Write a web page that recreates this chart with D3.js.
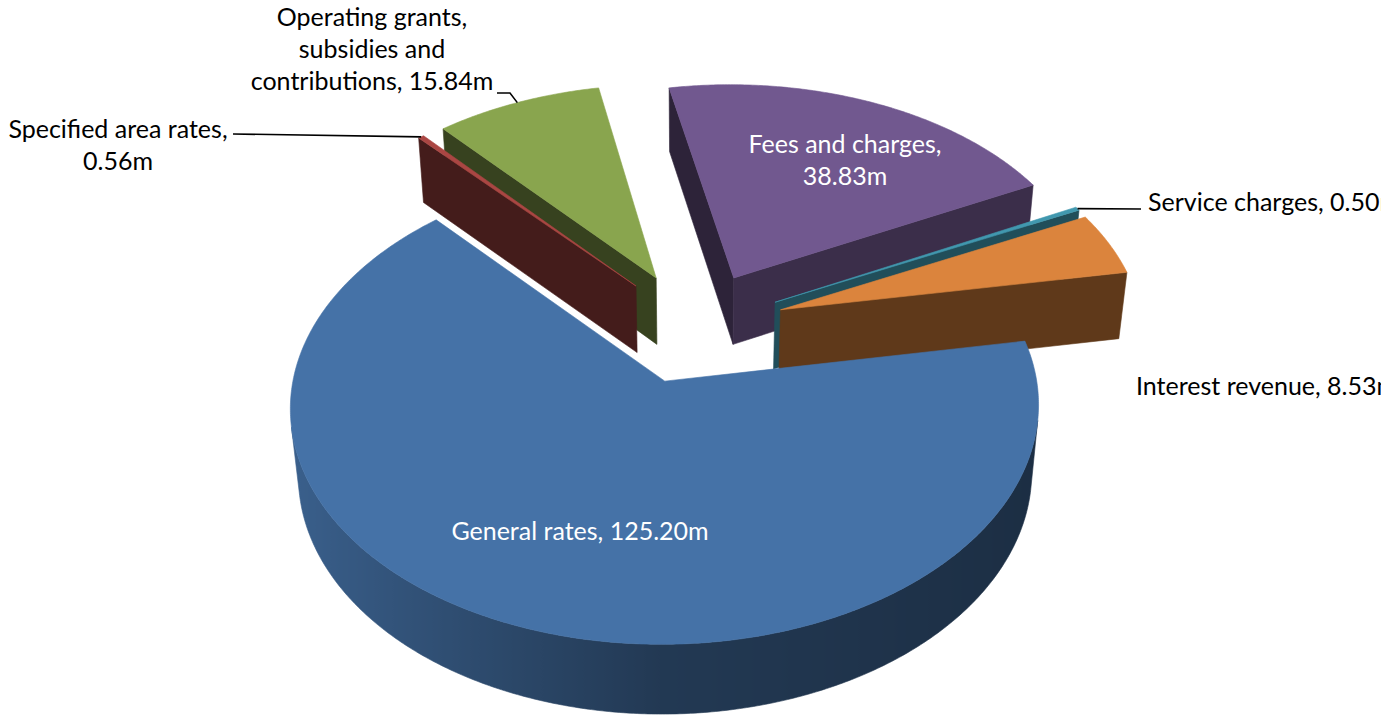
<!DOCTYPE html>
<html>
<head>
<meta charset="utf-8">
<script src="https://cdn.jsdelivr.net/npm/d3@7"></script>
<style>
  html, body { margin: 0; padding: 0; background: #ffffff; }
  svg { display: block; }
  text { font-family: Lato, "Open Sans", sans-serif; font-size: 25px; }
</style>
</head>
<body>
<svg id="chart" width="1400" height="717"></svg>
<script>
// Revenue by source (millions), in the order the slices run clockwise
const categories = [
  "General rates",
  "Specified area rates",
  "Operating grants, subsidies and contributions",
  "Fees and charges",
  "Service charges",
  "Interest revenue"
];
const values = [125.20, 0.56, 15.84, 38.83, 0.50, 8.53];
const palette = ["#4572a7", "#aa4643", "#89a54e", "#71588f", "#4198af", "#db843d"];

// Words per line for each data label
const labelWrap = [[3], [3, 1], [2, 2, 2], [3, 1], [3], [3]];
// Label placement: anchor point of the first baseline, alignment, colour
const labelPlace = [
  { x: 580,  y: 540, anchor: "middle", color: "#ffffff" },
  { x: 118,  y: 138, anchor: "middle", color: "#000000" },
  { x: 372,  y: 26,  anchor: "middle", color: "#000000" },
  { x: 845,  y: 153, anchor: "middle", color: "#ffffff" },
  { x: 1148, y: 211, anchor: "start",  color: "#000000" },
  { x: 1136, y: 395, anchor: "start",  color: "#000000" }
];
// Leader lines: fixed points near the label, ending on the slice rim
const leaderFrom = [null, [[233, 134]], [[497, 93], [510, 93]], null, [[1141, 209]], null];

const deg = Math.PI / 180;
const view = {
  cx: 695, cy: 327,      // screen position of the pie centre
  focal: 2720,           // perspective focal length (px per unit at distance 1)
  dist: 7.5,             // camera distance in pie radii
  tilt: 38 * deg,        // elevation of the camera above the pie plane
  explode: 0.25,         // slice offset from centre, in radii
  depth: 0.239,          // thickness of the pie, in radii
  start: 80 * deg        // angle where the first slice begins
};

const svg = d3.select("#chart");
const defs = svg.append("defs");
defs.append("clipPath").attr("id", "plotClip")
  .append("rect").attr("x", 0).attr("y", 0).attr("width", 1381).attr("height", 717);
const root = svg.append("g").attr("clip-path", "url(#plotClip)");

const data = categories.map((c, i) => ({ name: c, value: values[i], color: palette[i], i }));
const pie = d3.pie().sort(null).value(d => d.value)
  .startAngle(view.start).endAngle(view.start + 2 * Math.PI);
const arcs = pie(data);

const st = Math.sin(view.tilt), ct = Math.cos(view.tilt);
const cam = [0, view.dist * st, view.dist * ct];

// World: X right, Y up, Z toward the viewer. Angle 0 points away, clockwise seen from above.
function depthOf([X, Y, Z]) { return view.dist - (Y * st + Z * ct); }
function project(p) {
  const [X, Y, Z] = p;
  const yc = Y * ct - Z * st;
  const zc = depthOf(p);
  return [view.cx + view.focal * X / zc, view.cy - view.focal * yc / zc];
}
function facing(p, n) {
  return n[0] * (cam[0] - p[0]) + n[1] * (cam[1] - p[1]) + n[2] * (cam[2] - p[2]) > 0;
}
function shade(color, k) {
  const c = d3.rgb(color);
  return d3.rgb(c.r * k, c.g * k, c.b * k).formatHex();
}
const outerShade = nx => nx < 0 ? 0.5 + 0.35 * (-nx) : 0.5 - 0.1 * nx;
const radialShade = nx => 0.40 + 0.33 * Math.pow(Math.max(0, nx), 1.3);

const line = d3.line();
const poly = pts => line(pts.map(project)) + "Z";

const slices = arcs.map(a => {
  const a0 = a.startAngle, a1 = a.endAngle, mid = (a0 + a1) / 2;
  const ex = view.explode * Math.sin(mid), ez = -view.explode * Math.cos(mid);
  const h = view.depth;
  const rim = (ang, Y) => [ex + Math.sin(ang), Y, ez - Math.cos(ang)];
  const vtx = Y => [ex, Y, ez];
  const n = Math.max(2, Math.ceil((a1 - a0) / (0.5 * deg)));
  const angs = d3.range(n + 1).map(k => a0 + (a1 - a0) * k / n);
  return { a, a0, a1, mid, ex, ez, h, rim, vtx, angs, order: depthOf(vtx(0)) };
});

// Far slices first
slices.sort((p, q) => q.order - p.order);

slices.forEach(s => {
  const g = root.append("g").attr("class", "slice");
  const col = s.a.data.color;
  const h = s.h;

  // Radial walls at the start and end angles
  [[s.a0, s.a0 - Math.PI / 2], [s.a1, s.a1 + Math.PI / 2]].forEach(([ang, na]) => {
    const nrm = [Math.sin(na), 0, -Math.cos(na)];
    const pts = [s.vtx(0), s.rim(ang, 0), s.rim(ang, -h), s.vtx(-h)];
    const c = [(s.ex + s.rim(ang, 0)[0]) / 2, -h / 2, (s.ez + s.rim(ang, 0)[2]) / 2];
    if (!facing(c, nrm)) return;
    const fill = shade(col, radialShade(nrm[0]));
    g.append("path").attr("d", poly(pts)).attr("fill", fill)
      .attr("stroke", fill).attr("stroke-width", 0.6).attr("stroke-linejoin", "round");
  });

  // Curved outer wall, split into runs that face the camera
  const runs = [];
  let cur = null;
  for (let k = 0; k < s.angs.length - 1; k++) {
    const m = (s.angs[k] + s.angs[k + 1]) / 2;
    const nrm = [Math.sin(m), 0, -Math.cos(m)];
    if (facing(s.rim(m, -h / 2), nrm)) {
      if (!cur) { cur = [s.angs[k]]; runs.push(cur); }
      cur.push(s.angs[k + 1]);
    } else cur = null;
  }
  runs.forEach((run, ri) => {
    const top = run.map(a => s.rim(a, 0));
    const bot = run.map(a => s.rim(a, -h)).reverse();
    const xs = top.map(p => project(p)[0]);
    const x1 = xs[0], x2 = xs[xs.length - 1];
    const gid = `side-${s.a.data.i}-${ri}`;
    const span = Math.abs(x2 - x1) < 1 ? 1 : (x2 - x1);
    const grad = defs.append("linearGradient").attr("id", gid)
      .attr("gradientUnits", "userSpaceOnUse")
      .attr("x1", x1).attr("y1", 0).attr("x2", x1 + span).attr("y2", 0);
    const stops = run.map((a, k) => ({ off: (xs[k] - x1) / span, c: shade(col, outerShade(Math.sin(a))) }))
      .sort((p, q) => p.off - q.off);
    stops.forEach(sp => grad.append("stop").attr("offset", Math.max(0, Math.min(1, sp.off))).attr("stop-color", sp.c));
    g.append("path").attr("d", poly(top.concat(bot))).attr("fill", `url(#${gid})`)
      .attr("stroke", `url(#${gid})`).attr("stroke-width", 0.6);
  });

  // Top face
  const topPts = [s.vtx(0)].concat(s.angs.map(a => s.rim(a, 0)));
  g.append("path").attr("d", poly(topPts)).attr("fill", col)
    .attr("stroke", col).attr("stroke-width", 0.6).attr("stroke-linejoin", "round");
});

// Leader lines from labels to the rim at each slice's middle angle
const fmt = d3.format(".2f");
arcs.forEach((a, i) => {
  if (!leaderFrom[i]) return;
  const s = slices.find(q => q.a.index === a.index);
  const end = project(s.rim(s.mid, 0));
  const pts = leaderFrom[i].concat([end]);
  root.append("path").attr("d", d3.line()(pts))
    .attr("fill", "none").attr("stroke", "#000").attr("stroke-width", 1.6);
});

// Data labels: "<category>, <value>m"
arcs.forEach((a, i) => {
  const words = `${a.data.name}, ${fmt(a.data.value)}m`.split(" ");
  const lines = [];
  let k = 0;
  labelWrap[i].forEach(cnt => { lines.push(words.slice(k, k + cnt).join(" ")); k += cnt; });
  const pl = labelPlace[i];
  const t = root.append("text").attr("x", pl.x).attr("y", pl.y)
    .attr("text-anchor", pl.anchor).attr("fill", pl.color);
  lines.forEach((ln, j) => {
    t.append("tspan").attr("x", pl.x).attr("dy", j === 0 ? 0 : 32).text(ln);
  });
});
</script>
</body>
</html>
